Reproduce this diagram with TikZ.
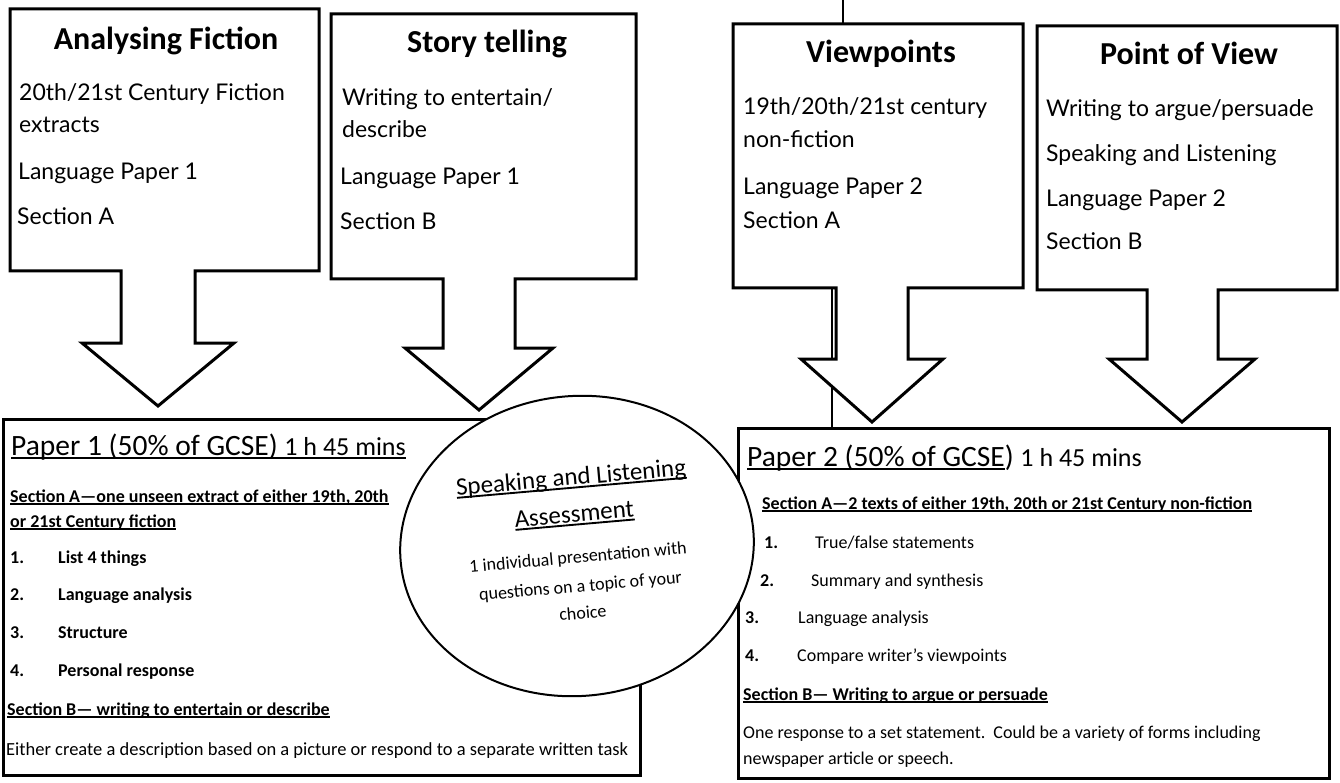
\documentclass[tikz,border=0pt]{standalone}
\usepackage{fontspec}
\setmainfont{Carlito}
\newfontfamily\sass{Lato}
\usetikzlibrary{shapes.geometric}
\newsavebox\ulbox
\newcommand\ulx[1]{\sbox\ulbox{#1}\rlap{\rule[-0.14em]{\wd\ulbox}{0.075em}}\usebox\ulbox}
\tikzset{
  callout/.style={draw, line width=3pt, fill=white, line join=miter},
  pbox/.style={draw, line width=3pt, fill=white},
  link/.style={draw, line width=2.5pt},
  ttl/.style={anchor=base, inner sep=0pt, font=\bfseries\fontsize{32}{38}\selectfont},
  bod/.style={anchor=base west, inner sep=0pt, font=\sass\fontsize{23}{27}\selectfont},
  ptitle/.style={anchor=base west, inner sep=0pt, font=\fontsize{28}{34}\selectfont},
  sec/.style={anchor=base west, inner sep=0pt, font=\bfseries\fontsize{18}{22}\selectfont},
  itemb/.style={anchor=base west, inner sep=0pt, font=\bfseries\fontsize{18}{22}\selectfont},
  itemr/.style={anchor=base west, inner sep=0pt, font=\fontsize{18}{22}\selectfont},
  oval/.style={ellipse, draw, line width=2pt, fill=white, inner sep=0pt,
    minimum width=354pt, minimum height=300pt},
  ovt/.style={anchor=base, inner sep=0pt, font=\fontsize{25}{30}\selectfont},
  ovb/.style={anchor=base, inner sep=0pt, font=\fontsize{18}{22}\selectfont}
}
\begin{document}
\begin{tikzpicture}[x=1pt,y=-1pt]
\useasboundingbox (0,0) rectangle (1340,783);
\fill[white] (0,0) rectangle (1340,783);

% connector lines behind the shapes
\coordinate (topA) at (843,0);
\coordinate (topB) at (843,24);
\coordinate (midA) at (832,288);
\coordinate (midB) at (832,428);
\draw[link] (topA) -- (topB);
\draw[link] (midA) -- (midB);

% callout boxes with arrows
\draw[callout] (10,9) -- (319,9) -- (319,271) -- (195,271) -- (195,343) -- (234,343)
  -- (158,406) -- (82,343) -- (121,343) -- (121,271) -- (10,271) -- cycle;
\draw[callout] (331,14) -- (636,14) -- (636,279) -- (515,279) -- (515,348) -- (553,348)
  -- (479,410) -- (405,348) -- (443,348) -- (443,279) -- (331,279) -- cycle;
\draw[callout] (733,24) -- (1023,24) -- (1023,288) -- (908,288) -- (908,359) -- (943,359)
  -- (872,422) -- (801,359) -- (836,359) -- (836,288) -- (733,288) -- cycle;
\draw[callout] (1037,26) -- (1337,26) -- (1337,290) -- (1218,290) -- (1218,359) -- (1255,359)
  -- (1182,422) -- (1109,359) -- (1147,359) -- (1147,290) -- (1037,290) -- cycle;

% top box texts
\node[ttl] (t1) at (166,50) {Analysing Fiction};
\node[bod] (t1a) at (19,101) {20th/21st Century Fiction};
\node[bod] (t1b) at (19,133) {extracts};
\node[bod] (t1c) at (18,180) {Language Paper 1};
\node[bod] (t1d) at (17,225) {Section A};

\node[ttl] (t2) at (487,53) {Story telling};
\node[bod] (t2a) at (342,106) {Writing to entertain/};
\node[bod] (t2b) at (342,138) {describe};
\node[bod] (t2c) at (340,185) {Language Paper 1};
\node[bod] (t2d) at (340,230) {Section B};

\node[ttl] (t3) at (881,63) {Viewpoints};
\node[bod] (t3a) at (743,115) {19th/20th/21st century};
\node[bod] (t3b) at (743,148) {non-fiction};
\node[bod] (t3c) at (743,195) {Language Paper 2};
\node[bod] (t3d) at (743,229) {Section A};

\node[ttl] (t4) at (1189,65) {Point of View};
\node[bod] (t4a) at (1046,117) {Writing to argue/persuade};
\node[bod] (t4b) at (1046,162) {Speaking and Listening};
\node[bod] (t4c) at (1046,207) {Language Paper 2};
\node[bod] (t4d) at (1046,250) {Section B};

% paper boxes
\draw[pbox] (3,419) rectangle (640,775);
\draw[pbox] (738,428) rectangle (1329,778);

% speaking and listening ellipse
\node[oval, rotate=5] (sla) at (577,546) {};
\begin{scope}[shift={(577,546)}, rotate=5, transform shape]
  \node[ovt] (sl1) at (0,-61) {\ulx{Speaking and Listening}};
  \node[ovt] (sl2) at (0,-24) {\ulx{Assessment}};
  \node[ovb] (sl3) at (0,17) {1 individual presentation with};
  \node[ovb] (sl4) at (0,46) {questions on a topic of your};
  \node[ovb] (sl5) at (0,73) {choice};
\end{scope}

% paper 1 text
\node[ptitle] (p1) at (11,455) {\ulx{\fontsize{29.5}{34}\selectfont Paper 1 (50\% of GCSE) \fontsize{26}{30}\selectfont 1 h 45 mins}};
\node[sec] (p1sa) at (10,502) {\ulx{Section A—one unseen extract of either 19th, 20th}};
\node[sec] (p1sb) at (10,527) {\ulx{or 21st Century fiction}};
\node[itemb] (p1n1) at (10,563) {1.};
\node[itemb] (p1i1) at (58,563) {List 4 things};
\node[itemb] (p1n2) at (10,600) {2.};
\node[itemb] (p1i2) at (58,600) {Language analysis};
\node[itemb] (p1n3) at (10,638) {3.};
\node[itemb] (p1i3) at (58,638) {Structure};
\node[itemb] (p1n4) at (10,676) {4.};
\node[itemb] (p1i4) at (58,676) {Personal response};
\node[sec] (p1sB) at (7,715) {\ulx{Section B— writing to entertain or describe}};
\node[itemr, font=\fontsize{18.5}{22}\selectfont] (p1e) at (6,755) {Either create a description based on a picture or respond to a separate written task};

% paper 2 text
\node[ptitle] (p2) at (747,466) {\fontsize{29.5}{34}\selectfont\ulx{Paper 2 (50\% of GCSE}) \fontsize{26}{30}\selectfont 1 h 45 mins};
\node[sec] (p2sa) at (762,509) {\ulx{Section A—2 texts of either 19th, 20th or 21st Century non-fiction}};
\node[itemb] (p2n1) at (764,548) {1.};
\node[itemr] (p2i1) at (815,548) {True/false statements};
\node[itemb] (p2n2) at (760,586) {2.};
\node[itemr] (p2i2) at (811,586) {Summary and synthesis};
\node[itemb] (p2n3) at (745,623) {3.};
\node[itemr] (p2i3) at (798,623) {Language analysis};
\node[itemb] (p2n4) at (745,661) {4.};
\node[itemr] (p2i4) at (797,661) {Compare writer’s viewpoints};
\node[sec] (p2sB) at (743,700) {\ulx{Section B— Writing to argue or persuade}};
\node[itemr] (p2o1) at (743,738) {One response to a set statement.\ \ Could be a variety of forms including};
\node[itemr] (p2o2) at (743,764) {newspaper article or speech.};
\end{tikzpicture}
\end{document}
